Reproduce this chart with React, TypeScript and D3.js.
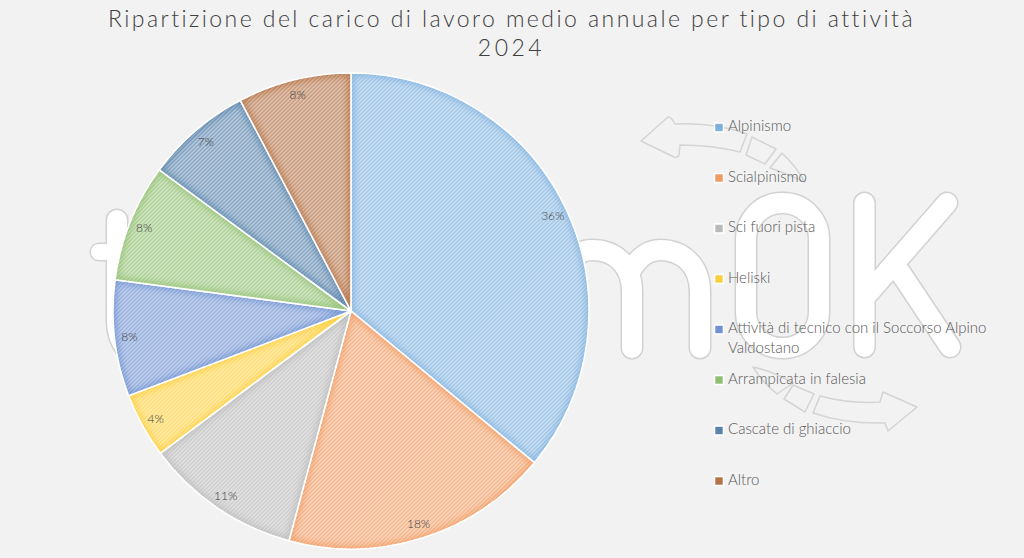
import React from "react";
import * as d3 from "d3";

const titleLines = ["Ripartizione del carico di lavoro medio annuale per tipo di attività", "2024"];
const categories = [
  "Alpinismo",
  "Scialpinismo",
  "Sci fuori pista",
  "Heliski",
  "Attività di tecnico con il Soccorso Alpino Valdostano",
  "Arrampicata in falesia",
  "Cascate di ghiaccio",
  "Altro",
];
const shares = [36, 18.2, 10.6, 4.4, 7.9, 8, 7.2, 7.7];
const colors = ["#5b9bd5", "#ed7d31", "#a5a5a5", "#ffc000", "#4472c4", "#70ad47", "#255e91", "#9e480e"];

const FONT = "Lato, 'Noto Sans', sans-serif";
const TEXT = "#595959";

const cx = 351;
const cy = 311;
const radius = 238;
const labelRadius = 223;
const TILE = 2.828; // lines up the stripes with the pixel diagonal

// legend rows, the long entry wraps on two lines
const legendWrap: Record<string, string[]> = {
  "Attività di tecnico con il Soccorso Alpino Valdostano": ["Attività di tecnico con il Soccorso Alpino", "Valdostano"],
};
const legendY = d3.scaleLinear().domain([0, categories.length - 1]).range([126.5, 480]);

// the big outlined watermark behind the chart
const markStrokes = [
  "M117 220V320Q117 345 137 358",
  "M564 290C564 265 575 250 592 250C615 250 632 265 632 292V348M632 268C640 257 648 250 660 250C682 250 700 265 700 292V348",
  "M746 240A36 36 0 0 1 782 203H783A36 36 0 0 1 819 240V311A36 36 0 0 1 783 348H782A36 36 0 0 1 746 311Z",
  "M864.5 203V347M947 203L866 296M900 272L950 347",
];
const markBar = "M99 252H140";
const markArrows = [
  "M641 141L668 117Q671 116 675 124Q715 122 747 134L740 152Q712 145 680 145L679 155Q678 158 674 157Z",
  "M752 137L776 149L765 164L746 155Z",
  "M782 153L770 168Q790 175 805 182Q795 165 782 153Z",
  "M753 367Q775 372 793 383L777 394Q762 382 753 367Z",
  "M793 385L814 394L805 412L784 399Z",
  "M820 396Q850 404 880 402L883 392L917 407L888 431L885 423Q845 424 813 413Z",
];

export default function App() {
  const pie = d3.pie<number>().sort(null).value((d) => d);
  const arcsData = pie(shares);
  const arc = d3.arc<d3.PieArcDatum<number>>().innerRadius(0).outerRadius(radius);
  const labelArc = d3.arc<d3.PieArcDatum<number>>().innerRadius(labelRadius).outerRadius(labelRadius);
  const total = d3.sum(shares);
  const pct = d3.format(".0%");

  return (
    <svg
      width={1024}
      height={558}
      style={{ position: "absolute", left: 0, top: 0, display: "block" }}
      fontFamily={FONT}
    >
      <defs>
        {colors.map((c, i) => (
          <pattern
            key={c}
            id={`stripe-${i}`}
            width={TILE}
            height={TILE}
            patternUnits="userSpaceOnUse"
            patternTransform="rotate(-45)"
          >
            <rect width={TILE} height={TILE} fill="#fff" />
            <rect width={TILE} height={TILE} fill={c} opacity={0.28} />
            <rect width={TILE} height={TILE / 2} fill={c} opacity={0.42} />
          </pattern>
        ))}
        {arcsData.map((d, i) => (
          <clipPath key={i} id={`slice-${i}`}>
            <path d={arc(d) || ""} />
          </clipPath>
        ))}
        <filter id="soft" x="-10%" y="-10%" width="120%" height="120%">
          <feGaussianBlur stdDeviation={3} />
        </filter>
      </defs>

      <rect width={1024} height={558} fill="#f2f2f2" />

      {/* watermark */}
      <g fill="none" strokeLinecap="round" strokeLinejoin="round">
        <path d={markBar} stroke="#d2d2d2" strokeWidth={19} />
        {markStrokes.map((d, i) => (
          <path key={i} d={d} stroke="#d2d2d2" strokeWidth={23} />
        ))}
        <path d={markBar} stroke="#fff" strokeWidth={16} />
        {markStrokes.map((d, i) => (
          <path key={i} d={d} stroke="#fff" strokeWidth={20} />
        ))}
      </g>
      <g fill="#f2f2f2" stroke="#d4d4d4" strokeWidth={1.5} strokeLinejoin="round">
        {markArrows.map((d, i) => (
          <path key={i} d={d} />
        ))}
      </g>

      <g transform={`translate(${cx},${cy})`}>
        {arcsData.map((d, i) => (
          <g key={categories[i]}>
            <path d={arc(d) || ""} fill={`url(#stripe-${i})`} />
            <g clipPath={`url(#slice-${i})`}>
              <path
                d={arc(d) || ""}
                fill="none"
                stroke={colors[i]}
                strokeWidth={6}
                opacity={0.5}
                filter="url(#soft)"
              />
            </g>
            <path d={arc(d) || ""} fill="none" stroke="#fff" strokeWidth={1.6} />
          </g>
        ))}
        {arcsData.map((d, i) => {
          const [x, y] = labelArc.centroid(d);
          return (
            <text key={i} x={x} y={y} dy="0.35em" textAnchor="middle" fontSize={12} fontWeight={300} fill="#404040">
              {pct(d.data / total)}
            </text>
          );
        })}
      </g>

      <g textAnchor="middle" fontSize={23} fontWeight={300} fill="#404040" letterSpacing={2.45}>
        {titleLines.map((t, i) => (
          <text key={t} x={511.5} y={27 + i * 29} letterSpacing={i === 1 ? 3.5 : undefined}>
            {t}
          </text>
        ))}
      </g>

      <g fontSize={15} fontWeight={300} fill={TEXT}>
        {categories.map((c, i) => {
          const y = legendY(i);
          return (
            <g key={c}>
              <rect x={714.5} y={y - 3.5} width={9} height={9} fill={colors[i]} fillOpacity={0.75} stroke="#fff" strokeWidth={1.6} />
              <text x={728} y={y}>
                {(legendWrap[c] || [c]).map((line, j) => (
                  <tspan key={line} x={728} dy={j === 0 ? "0.33em" : 20}>
                    {line}
                  </tspan>
                ))}
              </text>
            </g>
          );
        })}
      </g>
    </svg>
  );
}
